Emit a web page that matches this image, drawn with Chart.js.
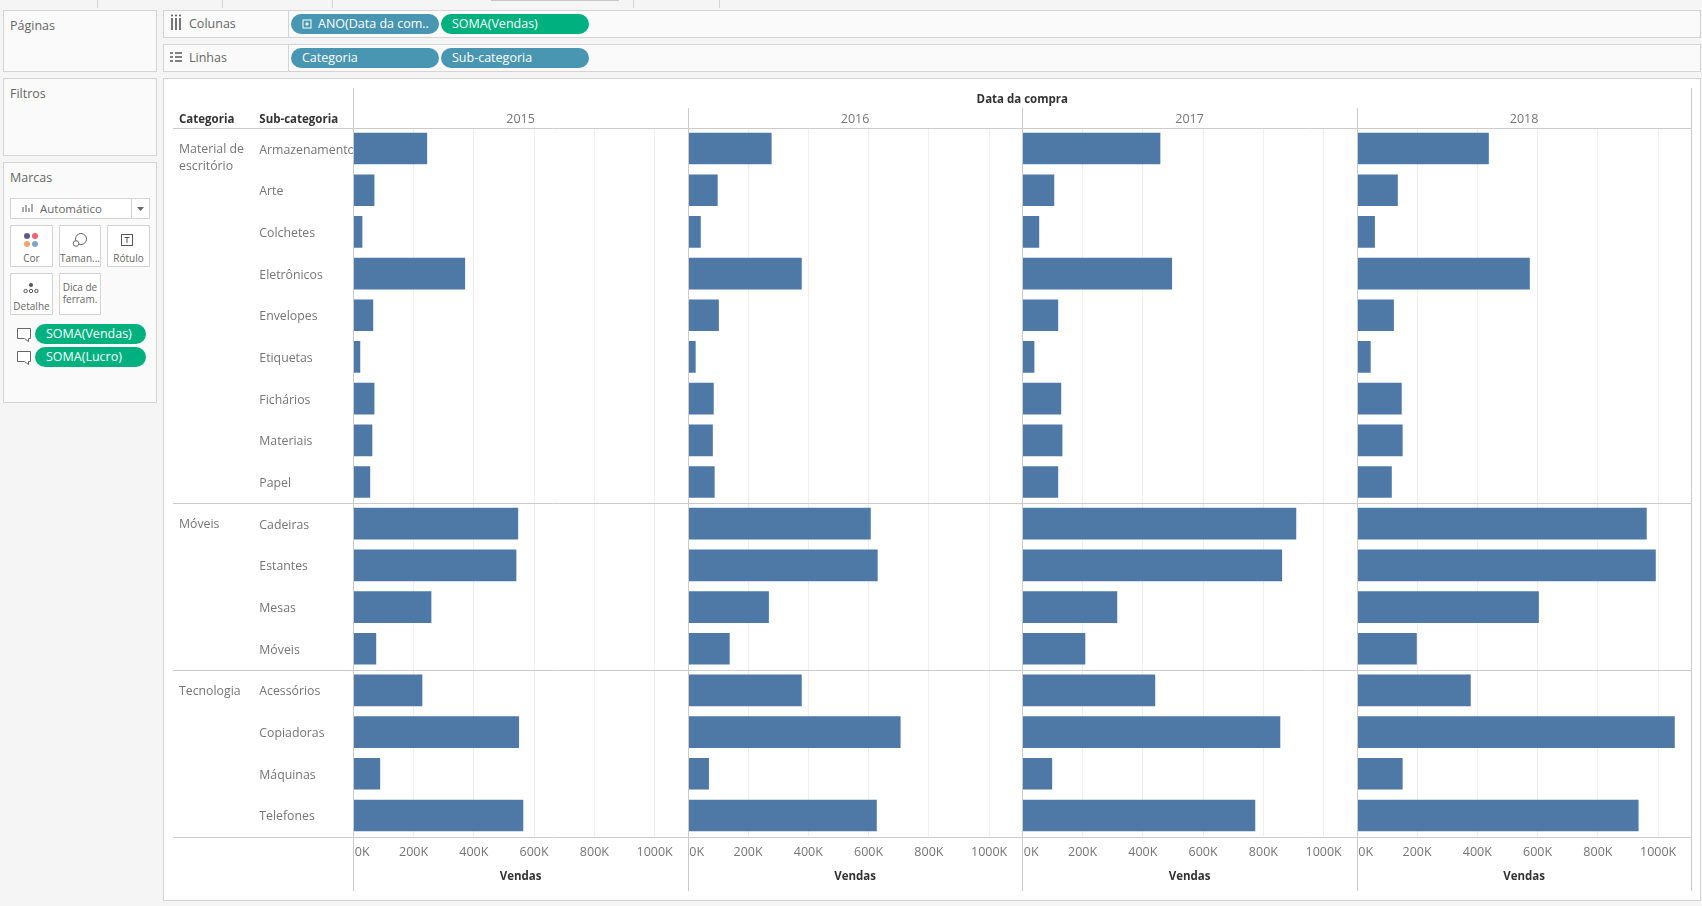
<!DOCTYPE html>
<html lang="pt">
<head>
<meta charset="utf-8">
<title>Vendas por sub-categoria</title>
<script src="https://cdn.jsdelivr.net/npm/chart.js@4"></script>
<style>
html,body{margin:0;padding:0;width:1702px;height:906px;overflow:hidden;background:#f5f5f5;font-family:"Open Sans",sans-serif;}
.box{position:absolute;box-sizing:border-box;border:1px solid #d4d4d4;background:#fafafa;}
.t{position:absolute;white-space:nowrap;height:20px;line-height:20px;color:#666;font-size:12.5px;}
.pill{position:absolute;box-sizing:border-box;border-radius:10px;color:#fff;font-size:12.5px;line-height:20px;height:20px;white-space:nowrap;}
.tab{position:absolute;top:0;width:1px;height:8px;background:#d4d4d4;}
canvas{position:absolute;left:0;top:0;}
svg{position:absolute;left:0;top:0;}
</style>
</head>
<body>
<div class="tab" style="left:97px"></div><div class="tab" style="left:222px"></div><div class="tab" style="left:332px"></div>
<div class="tab" style="left:633px"></div><div class="tab" style="left:719px"></div>
<div class="tab" style="left:491px;width:128px;height:1px;background:#c8c8c8"></div>

<div class="box" style="left:3px;top:10px;width:154px;height:62px"></div>
<div class="box" style="left:3px;top:78px;width:154px;height:78px"></div>
<div class="box" style="left:3px;top:162px;width:154px;height:241px"></div>
<div class="box" style="left:163px;top:10px;width:1538px;height:28px"></div>
<div class="box" style="left:163px;top:44px;width:1538px;height:28px"></div>
<div class="box" style="left:288px;top:10px;width:1px;height:28px;border:0;background:#d4d4d4"></div>
<div class="box" style="left:288px;top:44px;width:1px;height:28px;border:0;background:#d4d4d4"></div>
<div class="box" style="left:163px;top:78px;width:1538px;height:823px;background:#fff"></div>

<div class="t" style="left:10px;top:16px">Páginas</div>
<div class="t" style="left:10px;top:84px">Filtros</div>
<div class="t" style="left:10px;top:168px">Marcas</div>
<div class="t" style="left:189px;top:14px">Colunas</div>
<div class="t" style="left:189px;top:48px">Linhas</div>

<div class="pill" style="left:291px;top:14px;width:148px;background:#4996b2;padding-left:27px">ANO(Data da com..</div>
<div class="pill" style="left:441px;top:14px;width:148px;background:#00b180;padding-left:11px">SOMA(Vendas)</div>
<div class="pill" style="left:291px;top:48px;width:148px;background:#4996b2;padding-left:11px">Categoria</div>
<div class="pill" style="left:441px;top:48px;width:148px;background:#4996b2;padding-left:11px">Sub-categoria</div>
<div class="pill" style="left:35px;top:324px;width:111px;background:#00b180;padding-left:11px">SOMA(Vendas)</div>
<div class="pill" style="left:35px;top:347px;width:111px;background:#00b180;padding-left:11px">SOMA(Lucro)</div>

<div class="box" style="left:10px;top:198px;width:140px;height:21px;background:#fff"></div>
<div class="box" style="left:131px;top:198px;width:1px;height:21px;border:0;background:#d4d4d4"></div>
<div class="t" style="left:40px;top:199px;font-size:11.5px">Automático</div>

<div class="box" style="left:10px;top:225px;width:43px;height:42px;background:#fff"></div>
<div class="box" style="left:59px;top:225px;width:42px;height:42px;background:#fff"></div>
<div class="box" style="left:107px;top:225px;width:43px;height:42px;background:#fff"></div>
<div class="box" style="left:10px;top:273px;width:43px;height:42px;background:#fff"></div>
<div class="box" style="left:59px;top:273px;width:42px;height:42px;background:#fff"></div>
<div class="t" style="left:10px;width:43px;text-align:center;top:248px;font-size:10px">Cor</div>
<div class="t" style="left:59px;width:42px;text-align:center;top:248px;font-size:10px">Taman...</div>
<div class="t" style="left:107px;width:43px;text-align:center;top:248px;font-size:10px">Rótulo</div>
<div class="t" style="left:10px;width:43px;text-align:center;top:296px;font-size:10px">Detalhe</div>
<div class="t" style="left:59px;width:42px;text-align:center;top:277px;font-size:10px">Dica de</div>
<div class="t" style="left:59px;width:42px;text-align:center;top:289px;font-size:10px">ferram.</div>

<svg width="1702" height="906" fill="none">
  <g stroke="#555" stroke-width="1.6"><path d="M172 18V30M176 18V30M180 18V30"/><path d="M175 53H182M175 57H182M175 61H182M170 53H173M170 57H173M170 61H173"/></g>
  <g fill="#555"><circle cx="172" cy="15.5" r="1"/><circle cx="176" cy="15.5" r="1"/><circle cx="180" cy="15.5" r="1"/></g>
  <g stroke="#fff"><rect x="303" y="20" width="8" height="8"/><path d="M307 22V26M305 24H309"/></g>
  <path d="M23 212V207M26 212V205M29 212V208M32 212V204" stroke="#aaa" stroke-width="2"/>
  <path d="M137 207H144L140.500 211Z" fill="#666"/>
  <circle cx="27" cy="236" r="3" fill="#5e5a8a"/><circle cx="35" cy="236" r="3" fill="#f4606c"/>
  <circle cx="27" cy="244" r="3" fill="#f0a46e"/><circle cx="35" cy="244" r="3" fill="#7da6cf"/>
  <circle cx="81" cy="239" r="5.500" stroke="#666"/><circle cx="76" cy="243.500" r="2.800" stroke="#666" fill="#fff"/>
  <rect x="121.500" y="234.500" width="11" height="11" stroke="#555"/><path d="M124.500 237.500H129.500M127 237.500V243" stroke="#555"/>
  <circle cx="31" cy="285" r="2" fill="#555"/><circle cx="25.600" cy="291" r="1.700" stroke="#555"/><circle cx="31" cy="291" r="1.700" stroke="#555"/><circle cx="36.400" cy="291" r="1.700" stroke="#555"/>
  <g stroke="#666" fill="#fff"><path d="M17.500 328.500H30.500V338.500H28.500V341.500L24.500 338.500H17.500Z"/><path d="M17.500 351.500H30.500V361.500H28.500V364.500L24.500 361.500H17.500Z"/></g>
</svg>

<canvas id="c" width="1702" height="906"></canvas>

<script>
const subCategories = ['Armazenamento','Arte','Colchetes','Eletrônicos','Envelopes','Etiquetas','Fichários','Materiais','Papel','Cadeiras','Estantes','Mesas','Móveis','Acessórios','Copiadoras','Máquinas','Telefones'];
const years = ['2015','2016','2017','2018'];
const categoryNames = [['Material de','escritório'],['Móveis'],['Tecnologia']];
const categoryFirstRow = [0,9,13];
const tickValues = [0,200000,400000,600000,800000,1000000];
const axisMax = 1110000;
const vendas2015 = [244000,69000,29000,370000,65000,22000,69000,62000,55000,546000,540000,258000,75000,228000,549000,88000,563000];
const vendas2016 = [277000,98000,42000,377000,102000,25000,85000,82000,88000,606000,629000,268000,138000,377000,705000,69000,626000];
const vendas2017 = [457000,105000,55000,496000,118000,39000,128000,132000,118000,908000,861000,314000,208000,440000,855000,98000,772000];
const vendas2018 = [437000,135000,59000,573000,122000,45000,148000,151000,115000,961000,991000,603000,198000,377000,1054000,151000,934000];
const yearValues = [vendas2015,vendas2016,vendas2017,vendas2018];

const FONT = '"Open Sans", sans-serif';
const LINE = '#cbcbcb', GRID = '#efefef', MUTED = '#757575', DARK = '#333333';

const tableauFrame = {
  id:'tableauFrame',
  beforeDraw(chart){
    // small label nudges to match the source's text placement
    const yItems = chart.scales.y.getLabelItems();
    if(!yItems._nudged){ yItems.forEach(it=>{ it.options.translation[1]+=1.5; }); yItems._nudged=true; }
    years.forEach(yr=>{
      const items = chart.scales['x'+yr].getLabelItems();
      if(!items._nudged && items.length){ items[0].options.translation[0]+=1.5; items._nudged=true; }
    });
  },
  afterDatasetsDraw(chart){
    const {ctx, scales} = chart;
    const y = scales.y;
    const band = (y.getPixelForValue(1) - y.getPixelForValue(0));
    const right = scales['x'+years[3]].right;
    ctx.save();
    ctx.strokeStyle = LINE; ctx.lineWidth = 1;
    const hLines = [y.getPixelForValue(0)-band/2, y.getPixelForValue(9)-band/2, y.getPixelForValue(13)-band/2, y.getPixelForValue(16)+band/2];
    hLines.forEach(p=>{ const py=Math.round(p+.3)+.5; ctx.beginPath(); ctx.moveTo(173,py); ctx.lineTo(right,py); ctx.stroke(); });
    years.forEach((yr,i)=>{
      const s = scales['x'+yr];
      const px = Math.round(s.left-.3)+.5;
      ctx.beginPath(); ctx.moveTo(px, i===0?88:108); ctx.lineTo(px, 891); ctx.stroke();
    });
    const pr = Math.round(right-.3)+.5;
    ctx.beginPath(); ctx.moveTo(pr,88); ctx.lineTo(pr,891); ctx.stroke();
    ctx.restore();
  },
  afterDraw(chart){
    const {ctx, scales} = chart;
    const y = scales.y;
    ctx.save();
    ctx.textBaseline='middle';
    ctx.font = '12.5px '+FONT; ctx.fillStyle = MUTED; ctx.textAlign='center';
    years.forEach(yr=>{ const s=scales['x'+yr]; ctx.fillText(yr,(s.left+s.right)/2,119.5); });
    ctx.font = 'bold 11.5px '+FONT; ctx.fillStyle = DARK;
    ctx.fillText('Data da compra',(scales['x'+years[0]].left+scales['x'+years[3]].right)/2,100);
    ctx.textAlign='left';
    ctx.fillText('Categoria',179,120);
    ctx.fillText('Sub-categoria',259.3,120);
    ctx.font = '12.3px '+FONT; ctx.fillStyle = MUTED;
    categoryNames.forEach((lines,i)=>{
      const cy = y.getPixelForValue(categoryFirstRow[i])+1;
      lines.forEach((ln,j)=>ctx.fillText(ln,179,cy+j*17));
    });
    ctx.restore();
  }
};

const xScales = {};
years.forEach(yr=>{
  xScales['x'+yr] = {
    type:'linear', position:'bottom', stack:'years', stackWeight:1,
    min:0, max:axisMax, offset:false,
    afterBuildTicks(s){ s.ticks = tickValues.concat(axisMax).map(value=>({value})); },
    afterFit(s){ s.height = 60; },
    border:{display:false},
    grid:{drawTicks:false, tickLength:0, color:c=>(c.tick && (c.tick.value===0||c.tick.value>1000000))?'transparent':GRID},
    ticks:{align:'inner', autoSkip:false, maxRotation:0, padding:9, color:MUTED,
      font:{family:FONT,size:12.5},
      callback:v=>v>1000000?'':(v/1000)+'K'},
    title:{display:true,text:'Vendas',color:DARK,font:{family:FONT,size:11.5,weight:'bold'},padding:{top:0,bottom:12.5}}
  };
});

new Chart(document.getElementById('c'),{
  type:'bar',
  data:{labels:subCategories,datasets:years.map((yr,i)=>({
    label:yr,data:yearValues[i],xAxisID:'x'+yr,yAxisID:'y',
    backgroundColor:'#4e79a7',borderWidth:0,grouped:false,barThickness:31
  }))},
  plugins:[tableauFrame],
  options:{
    indexAxis:'y',responsive:false,animation:false,devicePixelRatio:1,
    layout:{padding:{left:259.3,top:127.7,right:10.7,bottom:9.7}},
    plugins:{legend:{display:false},title:{display:false},tooltip:{enabled:true}},
    scales:Object.assign({
      y:{type:'category',position:'left',offset:true,
        afterFit(s){ s.width = 94; },
        border:{display:false},grid:{display:false,drawTicks:false,tickLength:0},
        ticks:{crossAlign:'far',autoSkip:false,padding:0,color:MUTED,font:{family:FONT,size:12.3}}}
    },xScales)
  }
});
</script>
</body>
</html>
